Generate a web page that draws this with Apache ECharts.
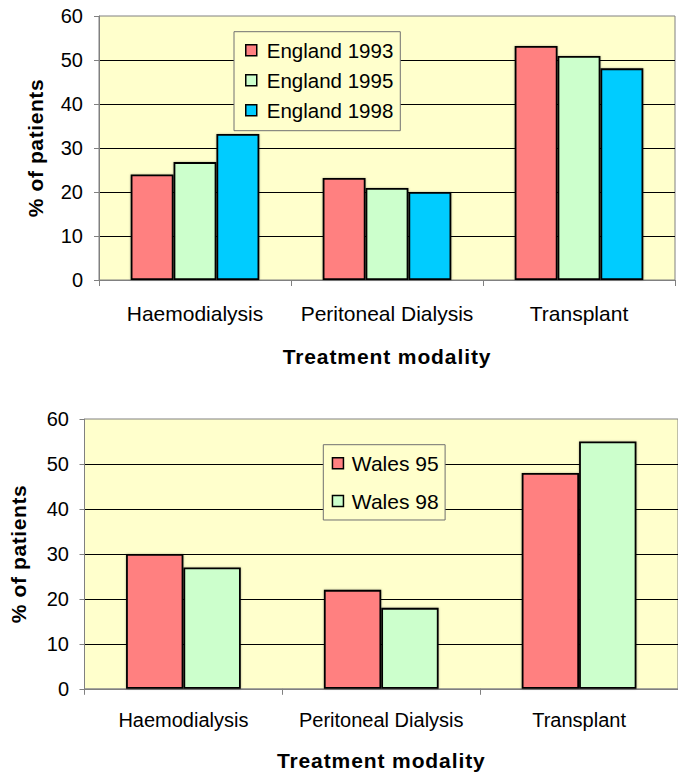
<!DOCTYPE html>
<html>
<head>
<meta charset="utf-8">
<title>Treatment modality</title>
<script src="https://cdn.jsdelivr.net/npm/echarts@6/dist/echarts.min.js"></script>
<style>
  html, body { margin: 0; padding: 0; background: #ffffff; }
  #chart { width: 678px; height: 772px; }
</style>
</head>
<body>
<div id="chart"></div>
<script>
// Treatment modalities on the category axis
const categories = ['Haemodialysis', 'Peritoneal Dialysis', 'Transplant'];

// England, % of patients by modality
const england1993 = [24, 23.2, 53.2];
const england1995 = [26.8, 20.9, 50.9];
const england1998 = [33.2, 20, 48.1];

// Wales, % of patients by modality
const wales95 = [30, 22, 48];
const wales98 = [27, 18, 55];

// Value axis range and step
const yMin = 0;
const yMax = 60;
const yStep = 10;

const FONT = '"Liberation Sans", Arial, Helvetica, sans-serif';
const RED = '#FF8080';
const GREEN = '#CCFFCC';
const BLUE = '#00CCFF';
const PLOT_BG = '#FFFFCC';
const FRAME = '#808080';

function valueAxis(gridIndex, nameGap, labelMargin) {
  return {
    type: 'value',
    gridIndex: gridIndex,
    min: yMin,
    max: yMax,
    interval: yStep,
    name: '% of patients',
    nameLocation: 'middle',
    nameGap: nameGap,
    nameTextStyle: { fontFamily: FONT, fontSize: 21, fontWeight: 'bold', color: '#000' },
    axisLine: { show: true, lineStyle: { color: FRAME, width: 1 } },
    axisTick: { show: true, length: 5, lineStyle: { color: FRAME, width: 1 } },
    axisLabel: { fontFamily: FONT, fontSize: 20, color: '#000', margin: labelMargin },
    splitLine: { show: true, showMinLine: false, showMaxLine: false, lineStyle: { color: '#000', width: 1 } },
    z: 0
  };
}

function categoryAxis(gridIndex, nameGap, labelMargin, labelSize) {
  return {
    type: 'category',
    gridIndex: gridIndex,
    data: categories,
    name: 'Treatment modality',
    nameLocation: 'middle',
    nameGap: nameGap,
    nameTextStyle: { fontFamily: FONT, fontSize: 21, fontWeight: 'bold', color: '#000' },
    axisLine: { show: true, lineStyle: { color: FRAME, width: 1 } },
    axisTick: { show: true, length: 6, interval: 0, alignWithLabel: false, lineStyle: { color: FRAME, width: 1 } },
    axisLabel: { fontFamily: FONT, fontSize: labelSize, color: '#000', margin: labelMargin, interval: 0 },
    splitLine: { show: false },
    z: 1
  };
}

function barSeries(name, data, color, axisIndex, gap) {
  return {
    type: 'bar',
    name: name,
    data: data,
    xAxisIndex: axisIndex,
    yAxisIndex: axisIndex,
    barGap: '0%',
    barCategoryGap: gap,
    itemStyle: {
      color: color,
      borderColor: '#000',
      borderWidth: 1.8,
      shadowBlur: 2,
      shadowColor: 'rgba(0,0,0,0.3)'
    },
    emphasis: { disabled: true }
  };
}

function legendBox(names, left, top, fontSize, lineHeight, itemGap, padding, textPad) {
  return {
    orient: 'vertical',
    left: left,
    top: top,
    data: names,
    icon: 'rect',
    itemWidth: 11,
    itemHeight: 11,
    itemGap: itemGap,
    padding: padding,
    backgroundColor: PLOT_BG,
    borderColor: '#707070',
    borderWidth: 1,
    selectedMode: false,
    itemStyle: { borderColor: '#000', borderWidth: 1.5 },
    textStyle: {
      fontFamily: FONT,
      fontSize: fontSize,
      lineHeight: lineHeight,
      color: '#000',
      padding: [0, 0, 0, textPad]
    }
  };
}

const chart = echarts.init(document.getElementById('chart'), null, { renderer: 'svg' });

chart.setOption({
  animation: false,
  backgroundColor: '#ffffff',
  grid: [
    { left: 99, right: 3, top: 16, height: 264, show: true, backgroundColor: PLOT_BG, borderColor: FRAME, borderWidth: 1 },
    { left: 81, width: 598.5, top: 419, height: 271.3, show: true, backgroundColor: PLOT_BG, borderColor: FRAME, borderWidth: 1 }
  ],
  legend: [
    legendBox(['England 1993', 'England 1995', 'England 1998'], 234, 31.7, 20.5, 20, 9, [8, 7, 10, 11], 5),
    legendBox(['Wales 95', 'Wales 98'], 323.3, 444.7, 21, 21, 16.7, [8.1, 6.5, 8.5, 8.4], 3.4)
  ],
  xAxis: [
    categoryAxis(0, 65.5, 22.5, 21),
    categoryAxis(1, 61.2, 21, 20)
  ],
  yAxis: [
    valueAxis(0, 53.5, 16),
    valueAxis(1, 55.5, 15.5)
  ],
  series: [
    barSeries('England 1993', england1993, RED, 0, '33%'),
    barSeries('England 1995', england1995, GREEN, 0, '33%'),
    barSeries('England 1998', england1998, BLUE, 0, '33%'),
    barSeries('Wales 95', wales95, RED, 1, '42%'),
    barSeries('Wales 98', wales98, GREEN, 1, '42%')
  ]
});

// The bold axis titles are set with slightly wider tracking
function trackTitles() {
  document.querySelectorAll('#chart svg text').forEach(function (t) {
    const s = t.textContent;
    let ls = 0;
    if (s === '% of patients') ls = 0.6;
    else if (s === 'Treatment modality') ls = 0.9;
    if (ls) t.style.letterSpacing = ls + 'px';
  });
}
trackTitles();
chart.on('finished', trackTitles);
</script>
</body>
</html>
